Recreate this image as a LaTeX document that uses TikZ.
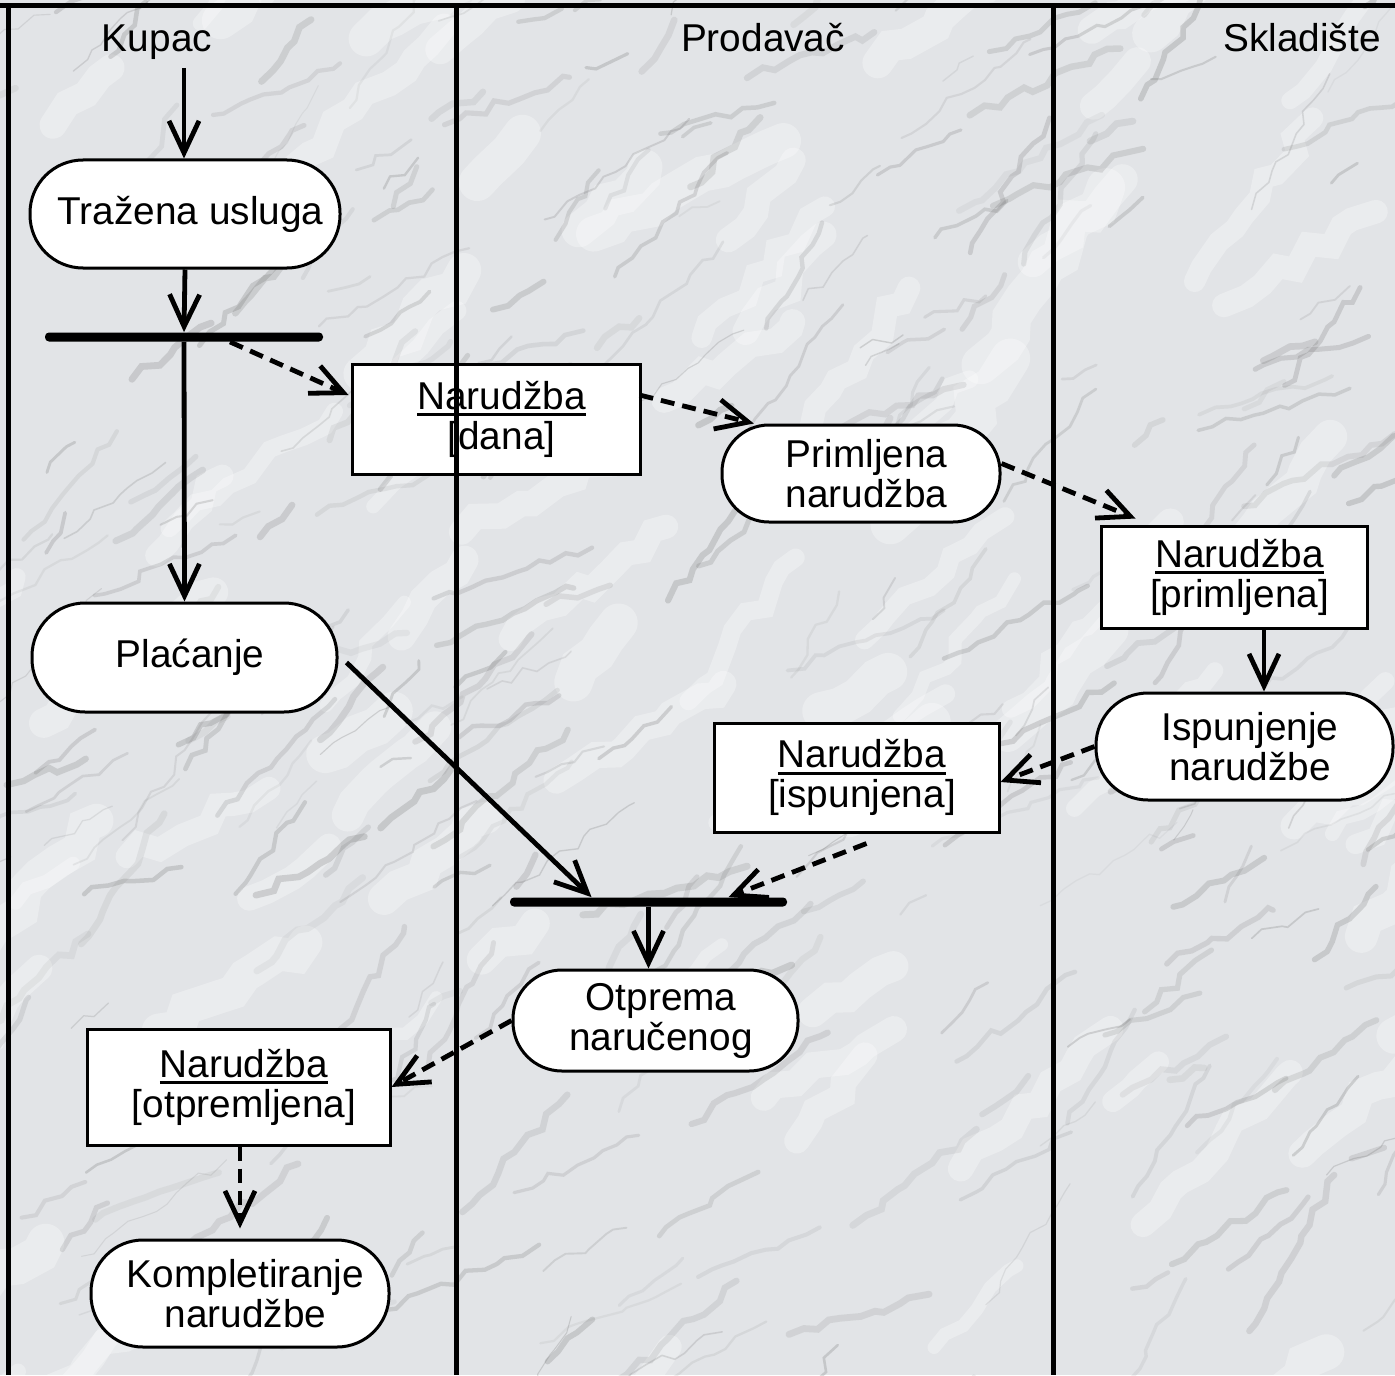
\documentclass[tikz,border=0pt]{standalone}
\usepackage{fontspec}
\setmainfont{Liberation Sans}
\usetikzlibrary{arrows.meta,calc,decorations.pathmorphing}
% underlined object name
\newcommand\objname[1]{\setbox0\hbox{#1}\rlap{\rule[-3.5pt]{\wd0}{1.4pt}}\box0}
% small indent that moves a centred line a little to the right
\newcommand\nudge{\hspace*{5.5pt}}
\definecolor{marble}{RGB}{226,228,231}
\begin{document}
\begin{tikzpicture}[x=0.5pt,y=-0.5pt,
  every node/.style={font=\fontsize{19.4}{20}\selectfont},
  act/.style={draw, line width=1.5pt, fill=white, align=center, inner sep=0pt},
  obj/.style={draw, line width=1.5pt, fill=white, align=center, inner sep=0pt},
  lane/.style={line width=2.5pt},
  bar/.style={fill=black, inner sep=0pt, minimum height=4.5pt, rounded corners=2pt},
  flow/.style={line width=2.4pt, -{Straight Barb[length=16pt,width=15pt]}},
  objflow/.style={flow, dash pattern=on 7pt off 4pt}]
\useasboundingbox (0,0) rectangle (1395,1375);
% marble background
\fill[marble] (0,0) rectangle (1395,1375);
\begin{scope}
  \clip (0,0) rectangle (1395,1375);
  \pgfmathsetseed{11}
  % pale patches
  \foreach \i in {1,...,90}{
    \pgfmathsetmacro\xa{rnd*1495-50}
    \pgfmathsetmacro\ya{rnd*1475-50}
    \pgfmathsetmacro\len{60+rnd*160}
    \pgfmathsetmacro\ang{-40+rand*15}
    \pgfmathsetmacro\lw{6+rnd*14}
    \draw[white, line width=\lw pt, opacity=0.3, line cap=round,
          decorate, decoration={random steps,segment length=10pt,amplitude=4pt}]
          (\xa,\ya) -- ++(\ang:\len);
  }
  % grey veins
  \foreach \i in {1,...,320}{
    \pgfmathsetmacro\xa{rnd*1495-50}
    \pgfmathsetmacro\ya{rnd*1475-50}
    \pgfmathsetmacro\len{30+rnd*150}
    \pgfmathsetmacro\ang{-40+rand*25}
    \pgfmathsetmacro\lw{0.5+rnd*3}
    \pgfmathsetmacro\op{0.06+rnd*0.16}
    \draw[gray!75!black, line width=\lw pt, opacity=\op, line cap=round,
          decorate, decoration={random steps,segment length=7pt,amplitude=2.5pt}]
          (\xa,\ya) -- ++(\ang:\len);
  }
\end{scope}

% lane headings
\node[anchor=base] (kupac) at (157,52) {Kupac};
\node[anchor=base] (prodavac) at (763,52) {Prodavač};
\node[anchor=base] (skladiste) at (1302,52) {Skladište};

% activities, objects and synchronisation bars
\coordinate (start) at (184,68);
\node[act, minimum width=155pt, minimum height=54pt, rounded corners=26.5pt] (trazena) at (185,214) {\nudge Tražena usluga};
\node[bar, minimum width=139pt] (fork1) at (184,337) {};
\node[act, minimum width=152.5pt, minimum height=54.5pt, rounded corners=26.5pt] (placanje) at (184.5,657.5) {\nudge Plaćanje};
\node[obj, minimum width=144pt, minimum height=55pt] (dana) at (496,419) {\nudge\objname{Narudžba}\\\nudge{[dana]}};
\node[act, minimum width=139pt, minimum height=48.5pt, rounded corners=23.5pt] (primljena) at (861,473.5) {\nudge Primljena\\\nudge narudžba};
\node[obj, minimum width=133pt, minimum height=51pt] (primbox) at (1234,577) {\nudge\objname{Narudžba}\\\nudge{[primljena]}};
\node[act, minimum width=148.5pt, minimum height=53.5pt, rounded corners=26pt] (ispun) at (1244.5,746.5) {\nudge Ispunjenje\\\nudge narudžbe};
\node[obj, minimum width=142.5pt, minimum height=54.5pt] (isbox) at (856.5,777.5) {\nudge\objname{Narudžba}\\\nudge{[ispunjena]}};
\node[bar, minimum width=138.5pt] (fork2) at (648.5,902) {};
\node[act, minimum width=142.5pt, minimum height=50.5pt, rounded corners=24.5pt] (otprema) at (655.5,1020.5) {\nudge Otprema\\\nudge naručenog};
\node[obj, minimum width=151.5pt, minimum height=58pt] (otpbox) at (238.5,1087) {\nudge\objname{Narudžba}\\\nudge{[otpremljena]}};
\node[act, minimum width=149pt, minimum height=53.5pt, rounded corners=26pt] (komplet) at (240,1293.5) {\nudge Kompletiranje\\\nudge narudžbe};

% control flow and object flow
\draw[flow] (start) -- (start |- trazena.north);
\draw[flow] (trazena.south) -- (fork1.north);
\draw[flow] (fork1.south) -- (placanje.north);
\draw[objflow] ($(fork1.south)+(46,0)$) -- ($(dana.west)+(-2,-24)$);
\draw[objflow] ($(dana.east)+(-2,-24)$) -- (primljena.155);
\draw[objflow] ($(primljena.east)+(0,-10)$) -- ($(primbox.north west)+(36,-6)$);
\draw[flow] ($(primbox.south)+(30,0)$) -- ($(ispun.north)+(19.5,0)$);
\draw[objflow] (ispun.west) -- ($(isbox.east)+(0,4.5)$);
\draw[objflow] ($(isbox.south)+(10,10)$) -- ($(fork2.north)+(80,0)$);
\draw[flow] ($(placanje.east)+(8,5)$) -- ($(fork2.north)+(-57,0)$);
\draw[flow] (fork2.south) -- (fork2.south |- otprema.north);
\draw[objflow] (otprema.west) -- (otpbox.east);
\draw[objflow] ($(otpbox.south)+(1.5,0)$) -- ($(komplet.north)+(0,-10)$);

% swimlane frame
\draw[lane] (0,6) -- (1395,6);
\draw[lane] (8,6) -- (8,1375);
\draw[lane] (456,6) -- (456,1375);
\draw[lane] (1053,6) -- (1053,1375);
\end{tikzpicture}
\end{document}
